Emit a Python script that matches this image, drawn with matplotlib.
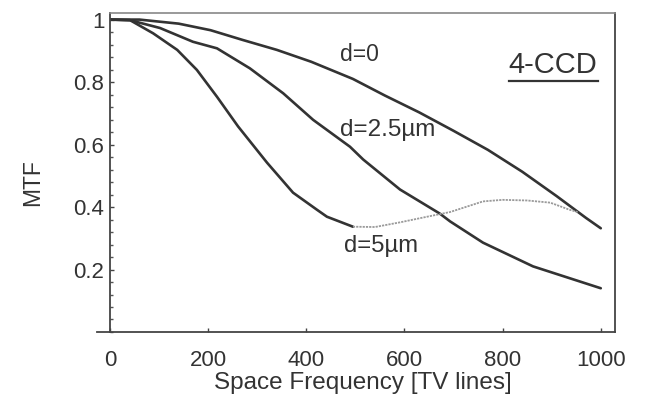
import matplotlib
matplotlib.use("Agg")
import matplotlib.pyplot as plt
from matplotlib.ticker import MultipleLocator
from matplotlib.lines import Line2D

plt.rcParams['font.family'] = ['Liberation Sans', 'DejaVu Sans']

# MTF curves of a 4-CCD camera for different pixel offsets d
freq_d0 = [0, 60, 140, 205, 270, 340, 410, 495, 560, 630, 700, 770, 840, 910, 970, 1000]
mtf_d0 = [1.0, 1.0, 0.987, 0.966, 0.935, 0.903, 0.865, 0.81, 0.757, 0.703,
          0.644, 0.583, 0.513, 0.435, 0.365, 0.332]

freq_d25 = [0, 41, 102, 169, 218, 285, 353, 414, 489, 516, 591, 672, 693, 760, 862, 1000]
mtf_d25 = [1.0, 0.998, 0.973, 0.929, 0.908, 0.844, 0.764, 0.679, 0.593, 0.552,
           0.456, 0.379, 0.354, 0.286, 0.21, 0.14]

freq_d5 = [0, 41, 88, 137, 177, 218, 261, 320, 373, 422, 442, 495]
mtf_d5 = [1.0, 0.998, 0.956, 0.903, 0.839, 0.753, 0.658, 0.542, 0.446, 0.391, 0.369, 0.337]

# continuation of the d=5um curve (drawn faint)
freq_d5_ext = [495, 540, 591, 640, 693, 760, 800, 850, 897, 937, 955]
mtf_d5_ext = [0.337, 0.336, 0.351, 0.367, 0.384, 0.418, 0.423, 0.421, 0.414, 0.391, 0.383]

x_ticks = [0, 200, 400, 600, 800, 1000]
y_ticks = [0.2, 0.4, 0.6, 0.8, 1.0]
y_tick_labels = ["0.2", "0.4", "0.6", "0.8", "1"]

fig = plt.figure(figsize=(6.45, 4.07), dpi=100)
ax = fig.add_axes([0.1705, 0.1843, 0.783, 0.7837])

line_col = "#333333"
ax.plot(freq_d0, mtf_d0, color=line_col, lw=1.9, solid_capstyle="round", solid_joinstyle="round")
ax.plot(freq_d25, mtf_d25, color=line_col, lw=1.9, solid_capstyle="round", solid_joinstyle="round")
ax.plot(freq_d5, mtf_d5, color=line_col, lw=1.9, solid_capstyle="round", solid_joinstyle="round")
ax.plot(freq_d5_ext, mtf_d5_ext, color="#9a9a9a", lw=1.3, linestyle=(0, (1.2, 0.6)))

ax.set_xlim(0, 1029)
ax.set_ylim(0, 1.021)
ax.set_xticks(x_ticks)
ax.set_yticks(y_ticks)
ax.set_yticklabels(y_tick_labels)
ax.yaxis.set_minor_locator(MultipleLocator(0.04))

ax.tick_params(axis="both", which="major", direction="in", length=3, width=1,
               color="#444444", labelsize=16, labelcolor="#333333")
ax.tick_params(axis="x", which="major", pad=13)
ax.tick_params(axis="y", which="major", pad=4)
ax.tick_params(axis="y", which="minor", direction="in", length=2, width=1, color="#555555")

for side in ["left", "bottom", "right"]:
    ax.spines[side].set_color("#444444")
    ax.spines[side].set_linewidth(1.3)
ax.spines["top"].set_color("#888888")
ax.spines["top"].set_linewidth(1.2)

# bottom axis line runs a little past the left axis
ax.add_line(Line2D([-0.026, 0], [0, 0], transform=ax.transAxes, color="#444444",
                   lw=1.3, clip_on=False))

ax.text(-0.154, 0.47, "MTF", transform=ax.transAxes, rotation=90,
        ha="center", va="center", fontsize=16.5, color="#333333")
ax.text(0.501, -0.16, "Space Frequency [TV lines]", transform=ax.transAxes,
        ha="center", va="center", fontsize=17.5, color="#333333")

txt_kw = dict(ha="center", va="center", color="#333333")
ax.text(509, 0.887, "d=0", fontsize=16.5, **txt_kw)
ax.text(565, 0.647, "d=2.5\u00b5m", fontsize=17.5, **txt_kw)
ax.text(553, 0.274, "d=5\u00b5m", fontsize=17.2, **txt_kw)

label = ax.text(903, 0.855, "4-CCD", ha="center", va="center", fontsize=21, color="#333333")
fig.canvas.draw()
bb = label.get_window_extent().transformed(fig.transFigure.inverted())
fig.add_artist(Line2D([bb.x0, bb.x1], [bb.y0 - 0.004, bb.y0 - 0.004],
                      transform=fig.transFigure, color="#333333", lw=1.6))

fig.savefig("out.png", dpi=100)
